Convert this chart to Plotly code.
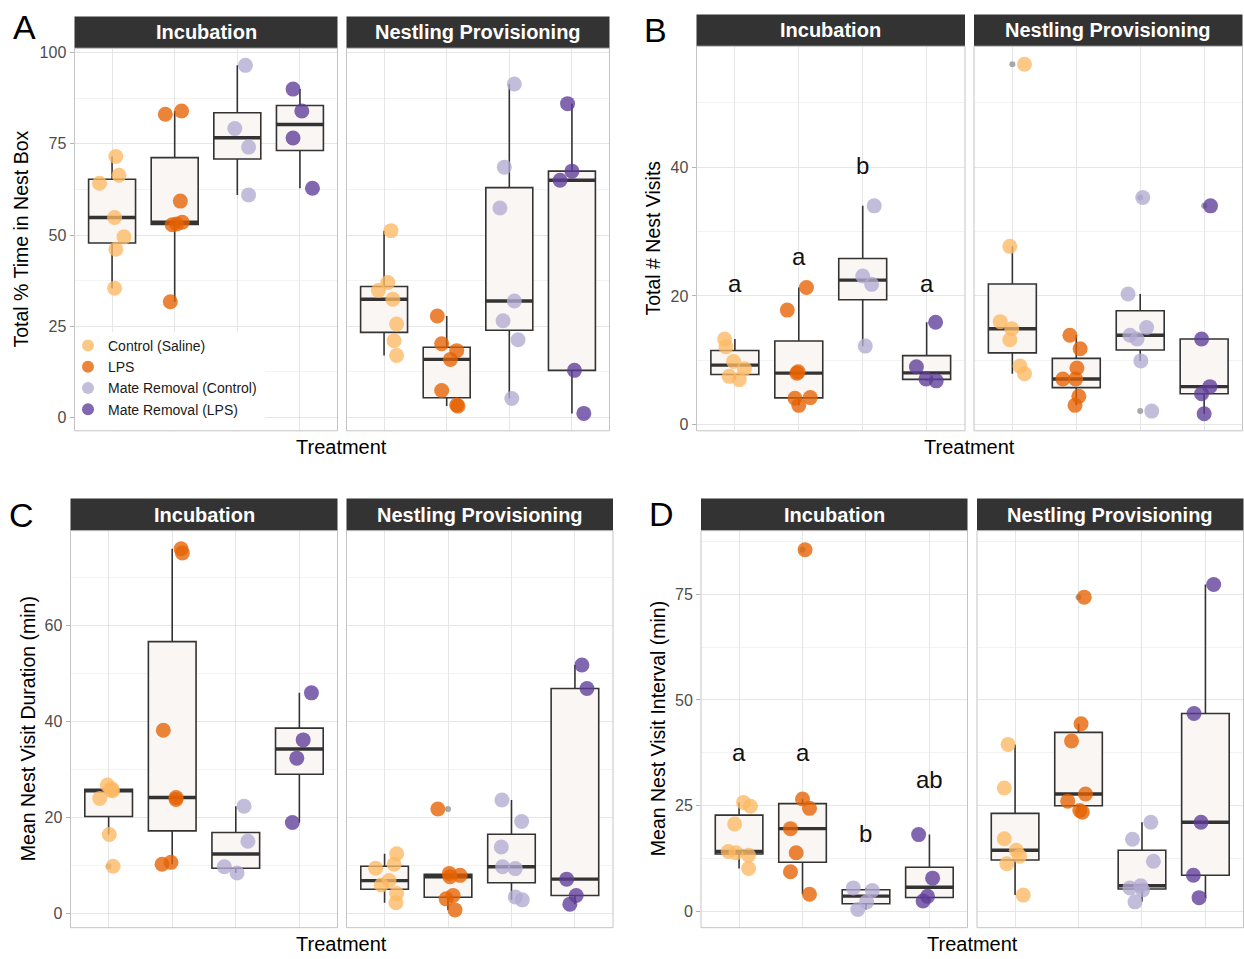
import numpy as np
import plotly.graph_objects as go

W, H = 1244, 959
FONT = "Liberation Sans, Arial, Helvetica, sans-serif"

TREATMENTS = ["Control (Saline)", "LPS", "Mate Removal (Control)", "Mate Removal (LPS)"]
PERIODS = ["Incubation", "Nestling Provisioning"]
POINT_COLORS = ["#FDB863", "#E66101", "#B2ABD2", "#5E3C99"]

# ---------------- Panel A: Total % Time in Nest Box ----------------
A_INC_CONTROL = [71.5, 66.4, 64.2, 54.8, 49.5, 46.1, 35.4]
A_INC_LPS = [83.1, 84.0, 59.3, 53.5, 53.0, 52.8, 31.7]
A_INC_MR_CONTROL = [96.5, 79.2, 74.1, 61.0]
A_INC_MR_LPS = [90.0, 84.0, 76.6, 62.8]
A_NP_CONTROL = [51.2, 37.0, 34.8, 32.4, 25.6, 21.0, 17.0]
A_NP_LPS = [27.8, 20.2, 18.3, 15.9, 7.4, 3.4, 3.1]
A_NP_MR_CONTROL = [91.4, 68.6, 57.4, 31.9, 26.5, 21.3, 5.2]
A_NP_MR_LPS = [86.0, 67.5, 65.0, 12.9, 1.1]

# ---------------- Panel B: Total # Nest Visits ----------------
B_INC_CONTROL = [13.3, 12.1, 9.8, 8.7, 7.5, 7.0]
B_INC_LPS = [21.3, 17.8, 8.0, 8.2, 4.2, 4.1, 3.0]
B_INC_MR_CONTROL = [34.0, 23.1, 21.8, 12.2]
B_INC_MR_LPS = [15.9, 9.0, 7.1, 6.8]
B_NP_CONTROL = [56.0, 27.7, 16.0, 14.9, 13.2, 9.1, 7.9]
B_NP_LPS = [13.9, 11.8, 8.8, 7.1, 7.1, 4.4, 3.0]
B_NP_MR_CONTROL = [35.3, 20.3, 15.1, 13.9, 13.3, 9.9, 2.1]
B_NP_MR_LPS = [34.0, 13.3, 5.9, 4.8, 1.7]

# ---------------- Panel C: Mean Nest Visit Duration (min) ----------------
C_INC_CONTROL = [26.7, 25.9, 25.7, 25.5, 23.9, 16.4, 9.8]
C_INC_LPS = [75.9, 75.0, 38.1, 24.1, 23.7, 10.6, 10.2]
C_INC_MR_CONTROL = [22.3, 15.0, 9.7, 8.4]
C_INC_MR_LPS = [45.9, 36.1, 32.3, 18.9]
C_NP_CONTROL = [12.4, 10.2, 9.4, 6.8, 5.9, 4.1, 2.2]
C_NP_LPS = [21.7, 8.3, 7.9, 7.6, 3.7, 3.0, 0.7]
C_NP_MR_CONTROL = [23.6, 19.1, 13.8, 9.7, 9.3, 3.4, 2.8]
C_NP_MR_LPS = [51.7, 46.8, 7.1, 3.7, 1.9]

# ---------------- Panel D: Mean Nest Visit Interval (min) ----------------
D_INC_CONTROL = [25.8, 24.9, 20.7, 14.2, 13.9, 13.3, 10.2]
D_INC_LPS = [85.5, 26.6, 24.4, 19.6, 13.9, 9.4, 4.1]
D_INC_MR_CONTROL = [5.6, 5.0, 2.3, 0.5]
D_INC_MR_LPS = [18.2, 7.9, 3.6, 2.5]
D_NP_CONTROL = [39.5, 29.2, 17.2, 14.5, 13.1, 11.3, 3.9]
D_NP_LPS = [74.3, 44.4, 40.3, 27.8, 26.1, 23.9, 23.5]
D_NP_MR_CONTROL = [21.1, 17.1, 11.9, 6.1, 5.6, 5.1, 2.3]
D_NP_MR_LPS = [77.3, 46.8, 21.1, 8.6, 3.3]

# significance letters (incubation facets)
B_SIG_LABELS = ["a", "a", "b", "a"]
B_SIG_Y = [21.9, 26.2, 40.3, 21.9]
D_SIG_LABELS = ["a", "a", "b", "ab"]
D_SIG_Y = [37.6, 37.6, 18.4, 31.3]

# horizontal jitter offsets of the points (position only, in category units)
JIT = {
    "A": [[[0.06, 0.11, -0.2, 0.04, 0.19, 0.06, 0.04],
           [-0.15, 0.11, 0.09, 0.12, 0.03, -0.04, -0.07],
           [0.13, -0.04, 0.18, 0.18],
           [-0.11, 0.03, -0.11, 0.2]],
          [[0.11, 0.06, -0.09, 0.14, 0.2, 0.16, 0.2],
           [-0.15, -0.08, 0.16, 0.06, -0.08, 0.16, 0.18],
           [0.08, -0.08, -0.15, 0.08, -0.1, 0.14, 0.04],
           [-0.07, 0.0, -0.19, 0.04, 0.19]]],
    "B": [[[-0.16, -0.14, -0.02, 0.15, -0.09, 0.07],
           [0.12, -0.18, -0.03, -0.01, 0.18, -0.06, 0.0],
           [0.18, 0.0, 0.14, 0.04],
           [0.14, -0.16, -0.01, 0.15]],
          [[0.19, -0.04, -0.19, -0.01, -0.04, 0.12, 0.19],
           [-0.10, 0.06, 0.01, -0.21, -0.01, 0.04, -0.02],
           [0.04, -0.19, 0.1, -0.16, -0.05, 0.01, 0.18],
           [0.1, -0.04, 0.09, -0.04, 0.0]]],
    "C": [[[-0.02, 0.05, 0.03, 0.06, -0.14, 0.01, 0.07],
           [0.14, 0.16, -0.14, 0.06, 0.06, -0.02, -0.16],
           [0.13, 0.19, -0.18, 0.02],
           [0.19, 0.06, -0.04, -0.11]],
          [[0.19, 0.15, -0.14, 0.07, -0.05, 0.19, 0.18],
           [-0.16, 0.02, 0.19, 0.03, 0.08, -0.03, 0.11],
           [-0.15, 0.16, -0.16, -0.14, 0.06, 0.06, 0.17],
           [0.11, 0.19, -0.13, 0.02, -0.08]]],
    "D": [[[0.07, 0.18, -0.07, -0.17, -0.05, 0.15, 0.15],
           [0.04, 0.0, 0.11, -0.19, -0.1, -0.19, 0.11],
           [-0.2, 0.1, 0.01, -0.13],
           [-0.17, 0.05, -0.03, -0.1]],
          [[-0.11, -0.17, -0.17, 0.02, 0.07, -0.13, 0.13],
           [0.09, 0.04, -0.11, 0.11, -0.17, 0.02, 0.06],
           [0.14, -0.15, 0.18, -0.02, -0.19, 0.01, -0.11],
           [0.13, -0.18, -0.07, -0.19, -0.1]]],
}

DATA = {
    "A": [[A_INC_CONTROL, A_INC_LPS, A_INC_MR_CONTROL, A_INC_MR_LPS],
          [A_NP_CONTROL, A_NP_LPS, A_NP_MR_CONTROL, A_NP_MR_LPS]],
    "B": [[B_INC_CONTROL, B_INC_LPS, B_INC_MR_CONTROL, B_INC_MR_LPS],
          [B_NP_CONTROL, B_NP_LPS, B_NP_MR_CONTROL, B_NP_MR_LPS]],
    "C": [[C_INC_CONTROL, C_INC_LPS, C_INC_MR_CONTROL, C_INC_MR_LPS],
          [C_NP_CONTROL, C_NP_LPS, C_NP_MR_CONTROL, C_NP_MR_LPS]],
    "D": [[D_INC_CONTROL, D_INC_LPS, D_INC_MR_CONTROL, D_INC_MR_LPS],
          [D_NP_CONTROL, D_NP_LPS, D_NP_MR_CONTROL, D_NP_MR_LPS]],
}

# layout geometry in pixels
PANELS = {
    "A": dict(facets=[(74.5, 337.5), (346.5, 609.5)], strip=(12.5, 44.5), plot=(44.5, 429.5),
              yrange=[-3.67, 101.2], dtick=25, minor=12.5, ytitle="Total % Time in Nest Box",
              ytitle_x=21, xtitle_y=446, letter=(24, 23)),
    "B": dict(facets=[(696.5, 965.0), (974.0, 1242.5)], strip=(10.5, 42.5), plot=(42.5, 429.5),
              yrange=[-0.96, 58.8], dtick=20, minor=10, ytitle="Total # Nest Visits",
              ytitle_x=653, xtitle_y=446, letter=(656, 26)),
    "C": dict(facets=[(70.5, 337.5), (346.5, 613.0)], strip=(497.5, 530.0), plot=(530.0, 929.5),
              yrange=[-3.0, 79.66], dtick=20, minor=10, ytitle="Mean Nest Visit Duration (min)",
              ytitle_x=28, xtitle_y=946, letter=(21, 514)),
    "D": dict(facets=[(701.0, 967.5), (977.0, 1243.5)], strip=(497.5, 530.0), plot=(530.0, 929.5),
              yrange=[-3.8, 90.0], dtick=25, minor=12.5, ytitle="Mean Nest Visit Interval (min)",
              ytitle_x=658, xtitle_y=946, letter=(661, 513)),
}

BOX_FILL = "#F9F6F4"
BOX_LINE = "#333333"
GRID = "#E6E6E6"
GRID_MINOR = "#F3F3F3"
BORDER = "#C4C4C4"
STRIP = "#333333"
CATS = [1, 2, 3, 4]
BOX_W = 0.75


def px(x):
    return x / W


def py(y):
    return 1 - y / H


def box_stats(values):
    a = np.sort(np.asarray(values, dtype=float))
    q1, med, q3 = np.percentile(a, [25, 50, 75])
    iqr = q3 - q1
    lo, hi = q1 - 1.5 * iqr, q3 + 1.5 * iqr
    inside = a[(a >= lo) & (a <= hi)]
    outl = a[(a < lo) | (a > hi)]
    return q1, med, q3, inside.min(), inside.max(), outl


fig = go.Figure()
layout_axes = {}
shapes = []
annotations = []

idx = 0
for key in ["A", "B", "C", "D"]:
    P = PANELS[key]
    for f in range(2):
        idx += 1
        xa = "x" if idx == 1 else f"x{idx}"
        ya = "y" if idx == 1 else f"y{idx}"
        x0, x1 = P["facets"][f]
        t0, t1 = P["plot"]
        groups = DATA[key][f]
        stats = [box_stats(g) for g in groups]

        fig.add_trace(go.Box(
            x=CATS, q1=[s[0] for s in stats], median=[s[1] for s in stats],
            q3=[s[2] for s in stats], lowerfence=[s[3] for s in stats],
            upperfence=[s[4] for s in stats], width=BOX_W, fillcolor=BOX_FILL,
            line=dict(color=BOX_LINE, width=1.6), whiskerwidth=0, boxpoints=False,
            xaxis=xa, yaxis=ya, showlegend=False, hoverinfo="skip"))

        mx, my = [], []
        for c, s in zip(CATS, stats):
            mx += [c - BOX_W / 2, c + BOX_W / 2, None]
            my += [s[1], s[1], None]
        fig.add_trace(go.Scatter(x=mx, y=my, mode="lines", line=dict(color=BOX_LINE, width=3.4),
                                 xaxis=xa, yaxis=ya, showlegend=False, hoverinfo="skip"))

        ox, oy = [], []
        for c, s in zip(CATS, stats):
            for v in s[5]:
                ox.append(c)
                oy.append(v)
        if ox:
            fig.add_trace(go.Scatter(x=ox, y=oy, mode="markers",
                                     marker=dict(color="#A8A8A8", size=6, line=dict(width=0)),
                                     xaxis=xa, yaxis=ya, showlegend=False, hoverinfo="skip"))

        for g, (vals, c) in enumerate(zip(groups, CATS)):
            jit = JIT[key][f][g]
            fig.add_trace(go.Scatter(
                x=[c + j for j in jit], y=vals, mode="markers", name=TREATMENTS[g],
                legendgroup=TREATMENTS[g], showlegend=(idx == 1),
                marker=dict(color=POINT_COLORS[g], size=15, opacity=0.78, line=dict(width=0)),
                xaxis=xa, yaxis=ya, hoverinfo="skip"))

        left = (f == 0)
        layout_axes["xaxis" if idx == 1 else f"xaxis{idx}"] = dict(
            domain=[px(x0), px(x1)], range=[0.4, 4.6], anchor=ya, tickmode="array",
            tickvals=CATS, showticklabels=False, ticks="", showgrid=True, gridcolor=GRID,
            gridwidth=1, zeroline=False, showline=False, fixedrange=True)
        layout_axes["yaxis" if idx == 1 else f"yaxis{idx}"] = dict(
            domain=[py(t1), py(t0)], range=P["yrange"], anchor=xa, tickmode="linear",
            tick0=0, dtick=P["dtick"], showticklabels=left, ticks="outside" if left else "",
            ticklen=4, tickwidth=1, tickcolor="#B3B3B3",
            tickfont=dict(family=FONT, size=16, color="#4D4D4D"),
            showgrid=True, gridcolor=GRID, gridwidth=1, zeroline=False, showline=False,
            minor=dict(dtick=P["minor"], tick0=0, showgrid=True, gridcolor=GRID_MINOR, gridwidth=1),
            fixedrange=True)

        # strip
        s0, s1 = P["strip"]
        shapes.append(dict(type="rect", xref="paper", yref="paper", x0=px(x0), x1=px(x1),
                           y0=py(s1), y1=py(s0), fillcolor=STRIP, line=dict(width=0), layer="above"))
        annotations.append(dict(xref="paper", yref="paper", x=px((x0 + x1) / 2), y=py((s0 + s1) / 2),
                                text=f"<b>{PERIODS[f]}</b>", showarrow=False, xanchor="center",
                                yanchor="middle", font=dict(family=FONT, size=20, color="white")))

        # significance letters
        if f == 0 and key in ("B", "D"):
            labs = B_SIG_LABELS if key == "B" else D_SIG_LABELS
            ys = B_SIG_Y if key == "B" else D_SIG_Y
            for c, lab, yv in zip(CATS, labs, ys):
                annotations.append(dict(xref=xa, yref=ya, x=c, y=yv, text=lab, showarrow=False,
                                        xanchor="center", yanchor="middle",
                                        font=dict(family=FONT, size=24, color="#111111")))

    # panel-level texts
    fx0 = P["facets"][0][0]
    fx1 = P["facets"][1][1]
    t0, t1 = P["plot"]
    annotations.append(dict(xref="paper", yref="paper", x=px((fx0 + fx1) / 2), y=py(P["xtitle_y"]),
                            text="Treatment", showarrow=False, xanchor="center", yanchor="middle",
                            font=dict(family=FONT, size=20, color="black")))
    annotations.append(dict(xref="paper", yref="paper", x=px(P["ytitle_x"]), y=py((t0 + t1) / 2),
                            text=P["ytitle"], showarrow=False, textangle=-90, xanchor="center",
                            yanchor="middle", font=dict(family=FONT, size=19.5, color="black")))
    annotations.append(dict(xref="paper", yref="paper", x=px(P["letter"][0]), y=py(P["letter"][1]),
                            text=key, showarrow=False, xanchor="center", yanchor="middle",
                            font=dict(family=FONT, size=34, color="black")))

# white background behind the legend (hides the grid there)
shapes.append(dict(type="rect", xref="paper", yref="paper", x0=px(75.5), x1=px(265),
                   y0=py(429), y1=py(330), fillcolor="white", line=dict(width=0), layer="above"))

# panel borders
for key in ["A", "B", "C", "D"]:
    P = PANELS[key]
    t0, t1 = P["plot"]
    for f in range(2):
        x0, x1 = P["facets"][f]
        shapes.append(dict(type="rect", xref="paper", yref="paper", x0=px(x0), x1=px(x1),
                           y0=py(t1), y1=py(t0), fillcolor="rgba(0,0,0,0)",
                           line=dict(color=BORDER, width=1), layer="above"))

fig.update_layout(
    width=W, height=H, margin=dict(l=0, r=0, t=0, b=0, pad=0),
    paper_bgcolor="white", plot_bgcolor="white",
    font=dict(family=FONT, color="black"),
    shapes=shapes, annotations=annotations,
    showlegend=True,
    legend=dict(x=px(68), y=py(328), xanchor="left", yanchor="top", bgcolor="rgba(0,0,0,0)",
                font=dict(family=FONT, size=14, color="#1A1A1A"), itemsizing="constant",
                tracegroupgap=0, borderwidth=0),
    **layout_axes,
)

fig.write_html("out.html")
